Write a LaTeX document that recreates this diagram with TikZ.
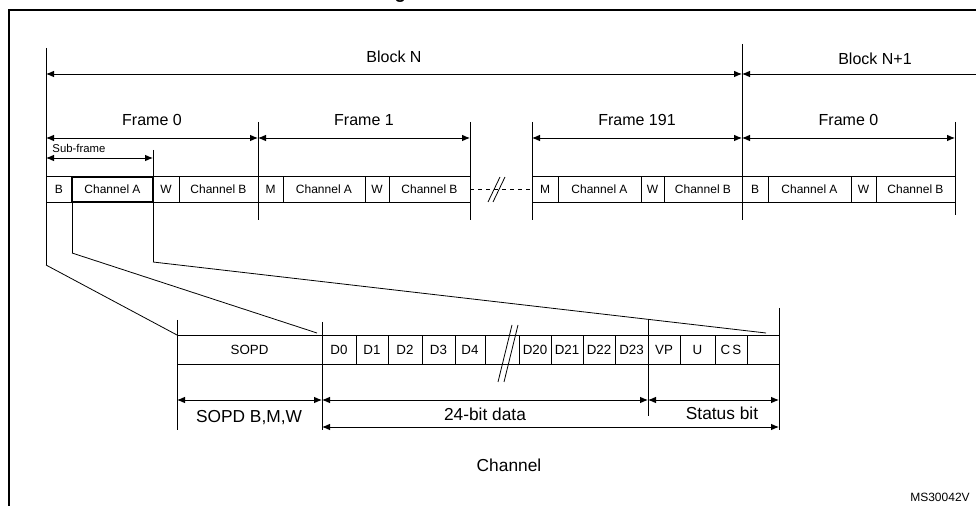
\documentclass[tikz,border=0pt]{standalone}
\usepackage{fontspec}
\setmainfont{Liberation Sans}
\usetikzlibrary{arrows.meta}
\begin{document}
\begin{tikzpicture}[x=0.75pt,y=-0.75pt,line width=0.7pt,
  dim/.style={{Latex[length=6pt,width=5pt]}-{Latex[length=6pt,width=5pt]}},
  cell/.style={draw,minimum height=19pt,inner sep=0pt,font=\fontsize{9}{10}\selectfont},
  lbl/.style={font=\fontsize{12}{14}\selectfont,inner sep=0pt},
  tick/.style={line width=0.6pt}]
\useasboundingbox (0,0) rectangle (976,506);
\node[font=\bfseries\fontsize{14}{16}\selectfont] (title) at (490,-6) {Figure 300. SPDIF format};
\draw[line width=1.2pt] (9,540) |- (990,10);
% verticals
\coordinate (a0) at (46,48); \coordinate (a1) at (46,265);
\draw[tick] (a0) -- (a1);
\draw[tick] (742,44) -- (742,220);
\foreach \x in {258,470,532} \draw[tick] (\x,122) -- (\x,220);
\draw[tick] (955,122) -- (955,215);
\draw[tick] (153,150) -- (153,262);
\draw[tick] (72,202) -- (72,253);
% block arrows
\coordinate (bn0) at (46,74); \coordinate (bn1) at (742,74); \coordinate (bn2) at (990,74);
\draw[dim] (bn0) -- (bn1) node[lbl,midway,above=8pt] (bnl) {Block N};
\draw[{Latex[length=6pt,width=5pt]}-] (bn1) -- (bn2);
\node[lbl] (bn1l) at (875,59) {Block N+1};
% frames
\foreach \a/\b/\t/\n in {46/258/Frame 0/f0,258/470/Frame 1/f1,532/742/Frame 191/f191,742/955/Frame 0/f0b}{
  \coordinate (\n a) at (\a,138); \coordinate (\n b) at (\b,138);
  \draw[dim] (\n a) -- (\n b) node[lbl,midway,above=9pt] {\t};}
\coordinate (sf0) at (46,158); \coordinate (sf1) at (153,158);
\draw[dim] (sf0) -- (sf1);
\node[font=\fontsize{8.5}{10}\selectfont,inner sep=0pt,anchor=west] (sfl) at (52,148) {Sub-frame};
% cells
\foreach \a/\b/\t in {46/72/B,72/153/Channel A,153/179/W,179/258/Channel B,258/283/M,283/365/Channel A,365/389/W,389/470/Channel B,532/558/M,558/641/Channel A,641/664/W,664/742/Channel B,742/768/B,768/851/Channel A,851/876/W,876/955/Channel B}{
  \node[cell,minimum width={(\b-\a)*0.75pt}] at ({(\a+\b)/2},189.5) {\t};}
\draw[line width=1.3pt] (72,177) rectangle (153,202);
\draw[dashed,tick] (470,189.5) -- (532,189.5);
\draw[tick] (488,202) -- (500,177); \draw[tick] (493,202) -- (505,177);
% bottom cells
\foreach \a/\b/\t in {177/322/SOPD,322/356/D0,356/388/D1,388/422/D2,422/455/D3,455/485/D4,485/519/,519/551/D20,551/583/D21,583/615/D22,615/648/D23,648/680/VP,680/715/U,715/747/C\,S,747/779/}{
  \node[cell,minimum width={(\b-\a)*0.75pt},minimum height={29*0.75pt},font=\fontsize{10}{11}\selectfont] at ({(\a+\b)/2},349.5) {\t};}
\draw[tick] (498,382) -- (512,325); \draw[tick] (504,382) -- (518,325);
% connectors
\coordinate (c1) at (177,335); \coordinate (c2) at (317,333); \coordinate (c3) at (766,333);
\draw[tick] (a1) -- (c1);
\draw[tick] (72,253) -- (c2);
\draw[tick] (153,262) -- (c3);
% bottom verticals
\draw[tick] (177,320) -- (177,430);
\draw[tick] (322,322) -- (322,430);
\draw[tick] (648,320) -- (648,416);
\draw[tick] (779,308) -- (779,430);
\coordinate (d0) at (177,400); \coordinate (d1) at (322,400); \coordinate (d2) at (648,400); \coordinate (d3) at (779,400);
\coordinate (e0) at (322,427); \coordinate (e1) at (779,427);
\draw[dim] (d0) -- (d1); \draw[dim] (d1) -- (d2); \draw[dim] (d2) -- (d3); \draw[dim] (e0) -- (e1);
\node[font=\fontsize{13}{15}\selectfont,inner sep=0pt] (sopd) at (249,418) {SOPD B,M,W};
\node[font=\fontsize{13}{15}\selectfont,inner sep=0pt] (dat) at (485,414) {24-bit data};
\node[font=\fontsize{13}{15}\selectfont,inner sep=0pt] (st) at (722,413) {Status bit};
\node[font=\fontsize{13}{15}\selectfont,inner sep=0pt] (ch) at (509,465) {Channel};
\node[font=\fontsize{9}{10}\selectfont,inner sep=0pt] (ms) at (940,497) {MS30042V};
\end{tikzpicture}
\end{document}
